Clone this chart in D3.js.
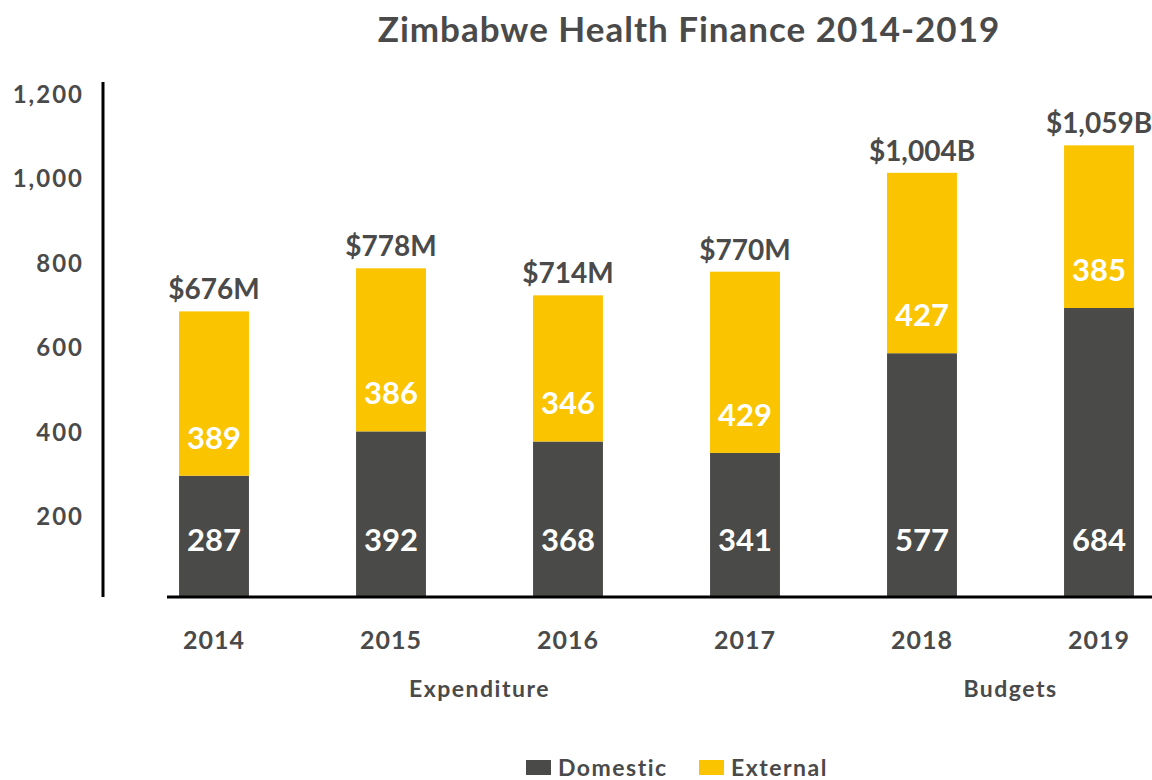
<!DOCTYPE html>
<html>
<head>
<meta charset="utf-8">
<script src="https://cdn.jsdelivr.net/npm/d3@7"></script>
<style>
  html, body { margin: 0; padding: 0; background: #fff; }
  svg { display: block; font-family: Lato, "Open Sans", sans-serif; }
</style>
</head>
<body>
<div id="chart"></div>
<script>
// Zimbabwe health finance, stacked bars (domestic + external)

const years = ['2014', '2015', '2016', '2017', '2018', '2019'];
const domestic = [287, 392, 368, 341, 577, 684];
const external = [389, 386, 346, 429, 427, 385];
const totalLabels = ['$676M', '$778M', '$714M', '$770M', '$1,004B', '$1,059B'];
const yTicks = [200, 400, 600, 800, 1000, 1200];
const groups = [
  { name: 'Expenditure', from: '2015', to: '2016' },
  { name: 'Budgets', from: '2018', to: '2019' }
];
const seriesNames = ['Domestic', 'External'];

const W = 1152, H = 780;
const textColor = '#4a4a4a';
const colors = { Domestic: '#4a4a48', External: '#fac400' };

const svg = d3.select('#chart')
  .append('svg')
  .attr('width', W)
  .attr('height', H);

const rows = years.map((yr, i) => ({
  year: yr,
  Domestic: domestic[i],
  External: external[i],
  label: totalLabels[i]
}));

const x = d3.scaleBand()
  .domain(years)
  .range([125.5, 1187.5])
  .paddingInner(0.605)
  .paddingOuter(0.3025);

const y = d3.scaleLinear()
  .domain([0, 1200])
  .range([597, 90]);

const stack = d3.stack().keys(seriesNames)(rows);

// Title
svg.append('text')
  .attr('x', 689)
  .attr('y', 42)
  .attr('text-anchor', 'middle')
  .style('font-size', '35px')
  .style('font-weight', 'bold')
  .style('letter-spacing', '1px')
  .style('fill', textColor)
  .text('Zimbabwe Health Finance 2014-2019');

// Bars
svg.selectAll('.series')
  .data(stack)
  .enter()
  .append('g')
  .attr('class', 'series')
  .attr('fill', d => colors[d.key])
  .selectAll('rect')
  .data(d => d)
  .enter()
  .append('rect')
  .attr('x', d => x(d.data.year))
  .attr('y', d => y(d[1]))
  .attr('width', x.bandwidth())
  .attr('height', d => y(d[0]) - y(d[1]));

// Value labels inside bars
svg.selectAll('.dom-label')
  .data(rows)
  .enter()
  .append('text')
  .attr('class', 'dom-label')
  .attr('x', d => x(d.year) + x.bandwidth() / 2)
  .attr('y', y(0) - 57)
  .attr('dy', '0.35em')
  .attr('text-anchor', 'middle')
  .style('font-size', '31px')
  .style('font-weight', 'bold')
  .style('fill', '#fff')
  .text(d => d.Domestic);

svg.selectAll('.ext-label')
  .data(rows)
  .enter()
  .append('text')
  .attr('class', 'ext-label')
  .attr('x', d => x(d.year) + x.bandwidth() / 2)
  .attr('y', d => y(d.Domestic) - 38)
  .attr('dy', '0.35em')
  .attr('text-anchor', 'middle')
  .style('font-size', '31px')
  .style('font-weight', 'bold')
  .style('fill', '#fff')
  .text(d => d.External);

// Totals on top
svg.selectAll('.total-label')
  .data(rows)
  .enter()
  .append('text')
  .attr('class', 'total-label')
  .attr('x', d => x(d.year) + x.bandwidth() / 2)
  .attr('y', d => y(d.Domestic + d.External) - 12)
  .attr('text-anchor', 'middle')
  .style('font-size', '28px')
  .style('font-weight', 'bold')
  .style('fill', textColor)
  .text(d => d.label);

// Y axis
const yAxis = svg.append('g')
  .attr('transform', 'translate(84, 0)')
  .call(d3.axisLeft(y).tickValues(yTicks).tickSize(0).tickPadding(0).tickFormat(d3.format(',')));
yAxis.select('.domain').remove();
yAxis.selectAll('text')
  .attr('dy', '0.5em')
  .style('font-family', 'Lato, "Open Sans", sans-serif')
  .style('font-size', '24px')
  .style('font-weight', 'bold')
  .style('letter-spacing', '2px')
  .style('fill', textColor);

svg.append('line')
  .attr('x1', 103).attr('x2', 103)
  .attr('y1', 82).attr('y2', y(0))
  .attr('stroke', '#000')
  .attr('stroke-width', 3);

// X axis baseline
svg.append('line')
  .attr('x1', 167).attr('x2', W)
  .attr('y1', y(0)).attr('y2', y(0))
  .attr('stroke', '#000')
  .attr('stroke-width', 3);

// Year labels
const xAxis = svg.append('g')
  .attr('transform', `translate(0, ${y(0)})`)
  .call(d3.axisBottom(x).tickSize(0).tickPadding(0));
xAxis.select('.domain').remove();
xAxis.selectAll('text')
  .attr('y', 43)
  .attr('dy', '0.35em')
  .style('font-family', 'Lato, "Open Sans", sans-serif')
  .style('font-size', '25px')
  .style('font-weight', 'bold')
  .style('letter-spacing', '1px')
  .style('fill', textColor);

// Group labels
svg.selectAll('.group-label')
  .data(groups)
  .enter()
  .append('text')
  .attr('class', 'group-label')
  .attr('x', d => (x(d.from) + x(d.to) + x.bandwidth()) / 2)
  .attr('y', 689)
  .attr('dy', '0.35em')
  .attr('text-anchor', 'middle')
  .style('font-size', '23px')
  .style('font-weight', 'bold')
  .style('letter-spacing', '1.5px')
  .style('fill', textColor)
  .text(d => d.name);

// Legend
const legendX = [526, 699];
const legend = svg.selectAll('.legend')
  .data(seriesNames)
  .enter()
  .append('g')
  .attr('class', 'legend')
  .attr('transform', (d, i) => `translate(${legendX[i]}, 760)`);

legend.append('rect')
  .attr('width', 25)
  .attr('height', 15)
  .attr('fill', d => colors[d]);

legend.append('text')
  .attr('x', 32)
  .attr('y', 16)
  .style('font-size', '23px')
  .style('font-weight', 'bold')
  .style('letter-spacing', '1.5px')
  .style('fill', textColor)
  .text(d => d);
</script>
</body>
</html>
